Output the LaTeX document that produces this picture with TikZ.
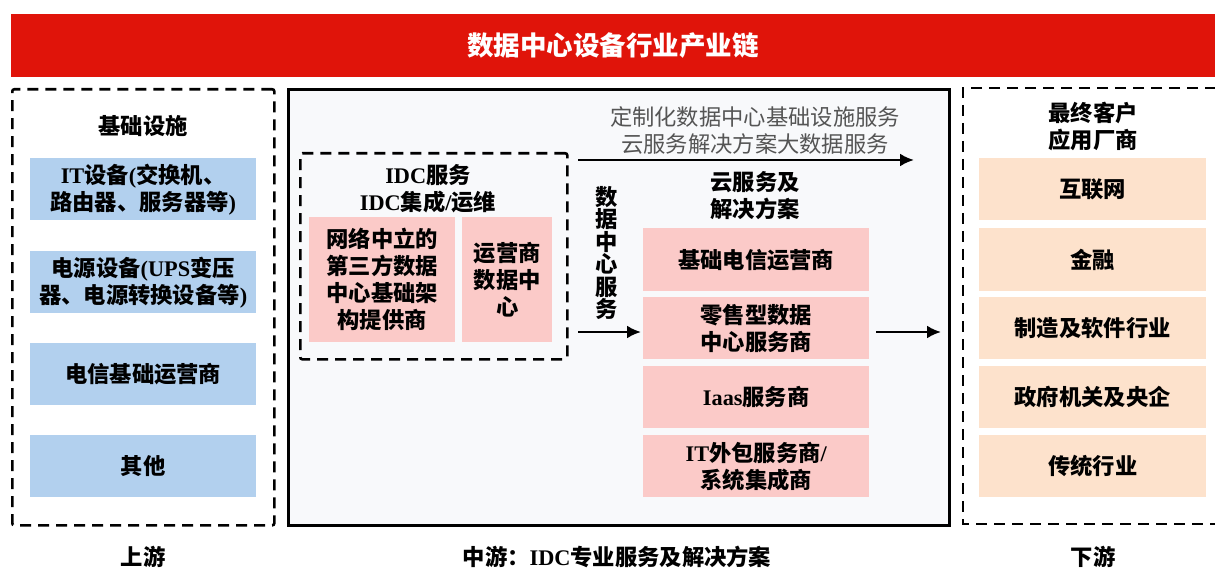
\documentclass[tikz,border=0pt]{standalone}
\usepackage{fontspec}
\setmainfont{Liberation Serif}
\newfontfamily\cjk{Noto Sans CJK SC}
\newfontfamily\lat{Liberation Serif}
\usetikzlibrary{arrows.meta}
\definecolor{titlered}{RGB}{224,20,10}
\definecolor{bluefill}{RGB}{178,208,238}
\definecolor{pinkfill}{RGB}{251,202,200}
\definecolor{peachfill}{RGB}{253,226,204}
\definecolor{midfill}{RGB}{248,249,251}
\definecolor{graytext}{RGB}{85,85,85}
\tikzset{
  txt/.style={font=\cjk\bfseries\fontsize{22.3}{27}\selectfont, align=center, inner sep=0},
  cbox/.style={txt, anchor=north west, minimum height=62, minimum width=226},
  bluebox/.style={cbox, fill=bluefill},
  pinkbox/.style={cbox, fill=pinkfill},
  peachbox/.style={cbox, fill=peachfill, minimum width=227},
  dashframe/.style={draw=black, line width=2.6pt, dash pattern=on 11pt off 7pt},
  flowarrow/.style={line width=2.6pt, -{Latex[length=14pt,width=13pt]}},
}
\begin{document}
\begin{tikzpicture}[x=1pt,y=-1pt]
\useasboundingbox (0,0) rectangle (1215,569);
% title bar
\node[fill=titlered, anchor=north west, minimum width=1204, minimum height=63, inner sep=0,
  text=white, font=\cjk\bfseries\fontsize{26.5}{30}\selectfont] (title) at (11,14) {数据中心设备行业产业链};
% frames
\node[dashframe, rounded corners=2pt, anchor=north west, minimum width=262, minimum height=436, inner sep=0] (upframe) at (11,88) {};
\node[draw=black, line width=2.6pt, fill=midfill, anchor=north west, minimum width=661, minimum height=436, inner sep=0] (midframe) at (287,88) {};
\draw[dashframe] (1216,88) -- (963,88) -- (963,524) -- (1216,524);
% upstream
\node[txt] (uphead) at (143,126) {基础设施};
\node[bluebox] (u1) at (30,158) {{\lat IT}设备{\lat (}交换机、\\路由器、服务器等{\lat )}};
\node[bluebox] (u2) at (30,251) {电源设备{\lat (UPS}变压\\器、电源转换设备等{\lat )}};
\node[bluebox] (u3) at (30,343) {电信基础运营商};
\node[bluebox] (u4) at (30,435) {其他};
% midstream top text
\node[txt, font=\cjk\fontsize{22.3}{27}\selectfont, text=graytext] (toptext) at (755,130) {定制化数据中心基础设施服务\\云服务解决方案大数据服务};
\coordinate (ta) at (578,160);
\coordinate (tb) at (914,160);
\draw[flowarrow] (ta) -- (tb);
% IDC dashed box
\node[dashframe, rounded corners=2pt, anchor=north west, minimum width=267, minimum height=206, inner sep=0] (idcframe) at (299,152) {};
\node[txt] (idchead) at (428,189) {{\lat IDC}服务\\{\lat IDC}集成{\lat /}运维};
\node[pinkbox, minimum width=146, minimum height=125] (pa) at (309,217) {网络中立的\\第三方数据\\中心基础架\\构提供商};
\node[pinkbox, minimum width=90, minimum height=125] (pb) at (462,217) {运营商\\数据中\\心};
% vertical text
\node[txt, font=\cjk\bfseries\fontsize{22.3}{22.5}\selectfont] (vtext) at (607,253) {数\\据\\中\\心\\服\\务};
\coordinate (ma) at (578,332);
\coordinate (mb) at (641,332);
\draw[flowarrow] (ma) -- (mb);
% cloud services column
\node[txt] (cloudhead) at (755,196) {云服务及\\解决方案};
\node[pinkbox, minimum height=63] (c1) at (643,228) {基础电信运营商};
\node[pinkbox] (c2) at (643,297) {零售型数据\\中心服务商};
\node[pinkbox] (c3) at (643,366) {{\lat Iaas}服务商};
\node[pinkbox] (c4) at (643,435) {{\lat IT}外包服务商{\lat /}\\系统集成商};
\coordinate (ra) at (876,332);
\coordinate (rb) at (941,332);
\draw[flowarrow] (ra) -- (rb);
% downstream
\node[txt] (downhead) at (1093,126) {最终客户\\应用厂商};
\node[peachbox] (d1) at (979,158) {互联网};
\node[peachbox, minimum height=63] (d2) at (979,228) {金融};
\node[peachbox] (d3) at (979,297) {制造及软件行业};
\node[peachbox] (d4) at (979,366) {政府机关及央企};
\node[peachbox] (d5) at (979,435) {传统行业};
% bottom labels
\node[txt] (lup) at (143,557) {上游};
\node[txt] (lmid) at (617,557) {中游：{\lat IDC}专业服务及解决方案};
\node[txt] (ldown) at (1093,557) {下游};
\end{tikzpicture}
\end{document}
